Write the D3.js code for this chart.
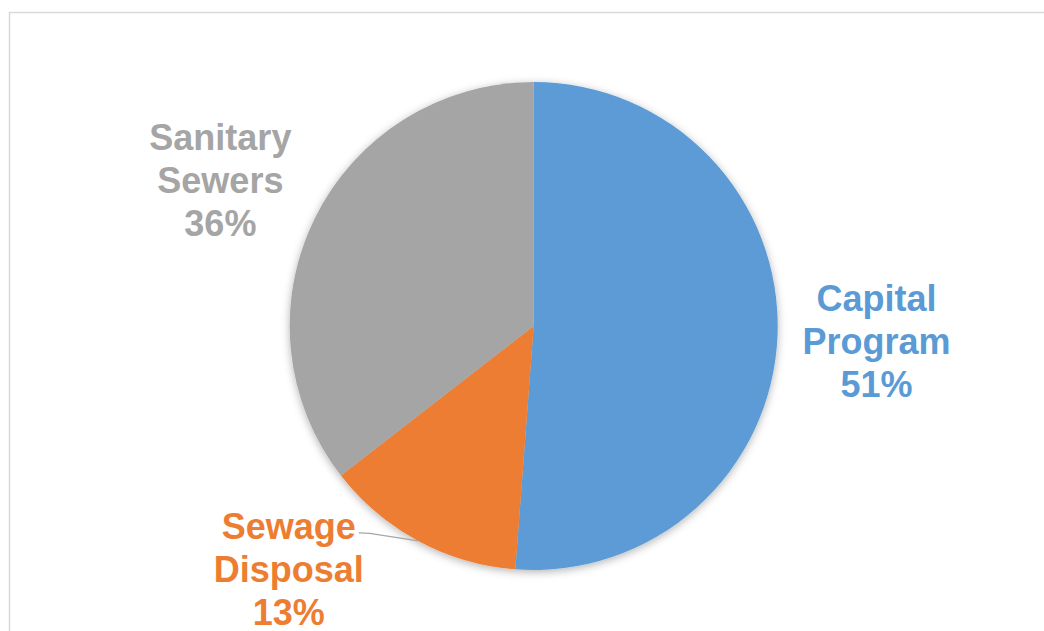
<!DOCTYPE html>
<html>
<head>
<meta charset="utf-8">
<script src="https://cdn.jsdelivr.net/npm/d3@7"></script>
<style>
  html, body { margin: 0; padding: 0; background: #fff; }
  svg { display: block; }
  text { font-family: "Liberation Sans", Arial, sans-serif; font-weight: bold; }
</style>
</head>
<body>
<svg id="canvas"></svg>
<script>
let categories = ['Capital Program', 'Sewage Disposal', 'Sanitary Sewers']
let values = [51.2, 13.3, 35.5]
let colors = ['#5b9bd5', '#ed7d31', '#a5a5a5']

let width = 1044
let height = 631
let cx = 533.7
let cy = 326
let radius = 244
let labelRadius = 340
let fontSize = 36
let lineGap = 43

// nudges for each label from the label arc
let labelNudge = [[3, 2], [-84, -56], [-8, 4]]

let canvas = d3.select('#canvas')
canvas.attr('width', width).attr('height', height)

let defs = canvas.append('defs')
let shadow = defs.append('filter')
    .attr('id', 'shadow')
    .attr('x', '-20%').attr('y', '-20%')
    .attr('width', '140%').attr('height', '140%')
shadow.append('feDropShadow')
    .attr('dx', 0).attr('dy', 2)
    .attr('stdDeviation', 4)
    .attr('flood-color', '#000')
    .attr('flood-opacity', 0.3)

// chart area border
canvas.append('rect')
    .attr('x', 9.5)
    .attr('y', 12.5)
    .attr('width', width + 20)
    .attr('height', height + 20)
    .attr('fill', 'none')
    .attr('stroke', '#d9d9d9')
    .attr('stroke-width', 1.5)

let pie = d3.pie().sort(null).value(d => d)
let slices = pie(values)

let arc = d3.arc().innerRadius(0).outerRadius(radius)
let edgeArc = d3.arc().innerRadius(radius).outerRadius(radius)
let labelArc = d3.arc().innerRadius(labelRadius).outerRadius(labelRadius)

let g = canvas.append('g')
    .attr('transform', `translate(${cx},${cy})`)

g.append('g')
    .attr('filter', 'url(#shadow)')
    .selectAll('path')
    .data(slices)
    .enter()
    .append('path')
    .attr('d', arc)
    .attr('fill', (d, i) => colors[i])

let labels = g.selectAll('text.label')
    .data(slices)
    .enter()
    .append('text')
    .attr('class', 'label')
    .attr('text-anchor', 'middle')
    .attr('font-size', fontSize)
    .attr('fill', (d, i) => colors[i])
    .attr('transform', (d, i) => {
        let c = labelArc.centroid(d)
        return `translate(${c[0] + labelNudge[i][0]},${c[1] + labelNudge[i][1] + 13})`
    })

labels.each(function (d, i) {
    let lines = categories[i].split(' ').concat([Math.round(values[i]) + '%'])
    let t = d3.select(this)
    lines.forEach((line, k) => {
        t.append('tspan')
            .attr('x', 0)
            .attr('y', (k - 1) * lineGap)
            .text(line)
    })
})

// leader line for the small slice
let small = 1
let smallLabel = labels.filter((d, i) => i === small)
let firstLine = smallLabel.select('tspan').node()
let box = firstLine.getBBox()
let tr = labelArc.centroid(slices[small])
let lx = tr[0] + labelNudge[small][0]
let ly = tr[1] + labelNudge[small][1] + 13
let startX = lx + box.x + box.width + 3
let startY = ly - lineGap - 6.5
let end = edgeArc.centroid(slices[small])

g.append('polyline')
    .attr('points', [[startX, startY], [startX + 11, startY + 0.5], end].map(p => p.join(',')).join(' '))
    .attr('fill', 'none')
    .attr('stroke', '#a6a6a6')
    .attr('stroke-width', 1.3)
</script>
</body>
</html>
